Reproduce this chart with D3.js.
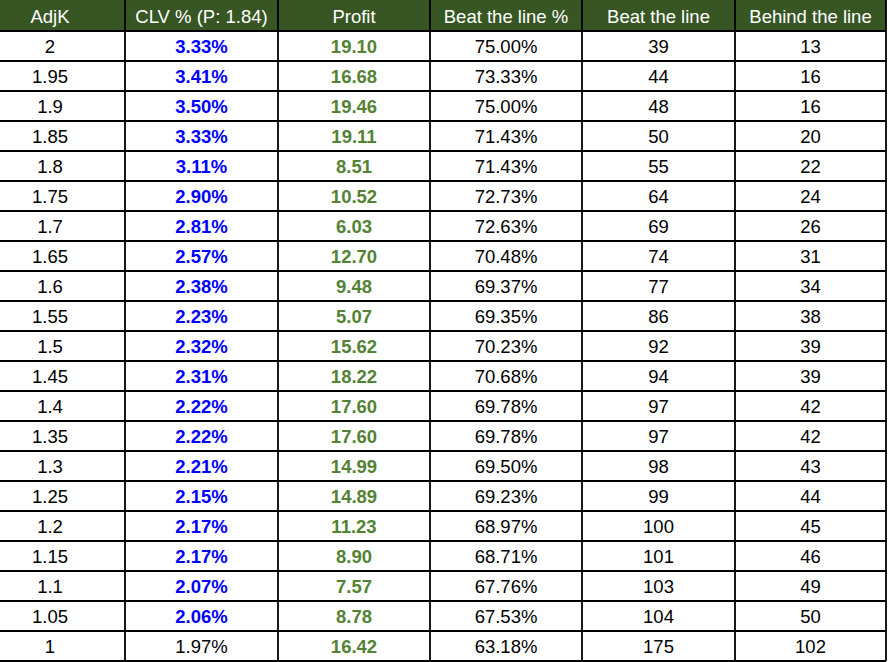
<!DOCTYPE html>
<html><head><meta charset="utf-8">
<script src="https://cdn.jsdelivr.net/npm/d3@7"></script>
<style>body{margin:0;background:#fff}</style>
</head><body><div id="tbl"></div>
<script>
// table data
var headers = ["AdjK", "CLV % (P: 1.84)", "Profit", "Beat the line %", "Beat the line", "Behind the line"];
var adjK = ["2","1.95","1.9","1.85","1.8","1.75","1.7","1.65","1.6","1.55","1.5","1.45","1.4","1.35","1.3","1.25","1.2","1.15","1.1","1.05","1"];
var clv = ["3.33%","3.41%","3.50%","3.33%","3.11%","2.90%","2.81%","2.57%","2.38%","2.23%","2.32%","2.31%","2.22%","2.22%","2.21%","2.15%","2.17%","2.17%","2.07%","2.06%","1.97%"];
var profit = ["19.10","16.68","19.46","19.11","8.51","10.52","6.03","12.70","9.48","5.07","15.62","18.22","17.60","17.60","14.99","14.89","11.23","8.90","7.57","8.78","16.42"];
var beatPct = ["75.00%","73.33%","75.00%","71.43%","71.43%","72.73%","72.63%","70.48%","69.37%","69.35%","70.23%","70.68%","69.78%","69.78%","69.50%","69.23%","68.97%","68.71%","67.76%","67.53%","63.18%"];
var beat = [39,44,48,50,55,64,69,74,77,86,92,94,97,97,98,99,100,101,103,104,175];
var behind = [13,16,16,20,22,24,26,31,34,38,39,39,42,42,43,44,45,46,49,50,102];

var width = 888, height = 662;
var colEdges = [-25, 125, 278, 430, 582, 735, 886];
var headH = 31;
var fs = "18.5px";

var svg = d3.select("#tbl").append("svg").attr("width", width).attr("height", height)
	.style("font-family", "'Liberation Sans', Arial, sans-serif");

var yScale = d3.scaleBand().domain(d3.range(adjK.length)).range([headH, headH + 30 * adjK.length]);

// header
svg.append("rect").attr("x", 0).attr("y", 0).attr("width", colEdges[6]).attr("height", headH).attr("fill", "#375623");
headers.forEach(function(h, i) {
	svg.append("text")
		.attr("x", (colEdges[i] + colEdges[i+1]) / 2).attr("y", headH / 2 + 7)
		.attr("text-anchor", "middle").attr("fill", "#fff").style("font-size", fs)
		.text(h);
});

var cols = [
	{vals: adjK, fill: "#000", bold: false},
	{vals: clv, fill: "#0000ff", bold: true},
	{vals: profit, fill: "#548235", bold: true},
	{vals: beatPct, fill: "#000", bold: false},
	{vals: beat, fill: "#000", bold: false},
	{vals: behind, fill: "#000", bold: false}
];

cols.forEach(function(c, ci) {
	svg.selectAll(null).data(c.vals).enter().append("text")
		.attr("x", (colEdges[ci] + colEdges[ci+1]) / 2)
		.attr("y", function(d, i) { return yScale(i) + yScale.bandwidth() / 2 + 7; })
		.attr("text-anchor", "middle")
		.attr("fill", function(d, i) { return (ci == 1 && i == adjK.length - 1) ? "#000" : c.fill; })
		.style("font-weight", function(d, i) { return (c.bold && !(ci == 1 && i == adjK.length - 1)) ? "bold" : "normal"; })
		.style("font-size", fs)
		.text(function(d) { return d; });
});

// grid lines
var bottom = headH + 30 * adjK.length;
svg.selectAll(".hl").data(d3.range(adjK.length + 1)).enter().append("line")
	.attr("x1", 0).attr("x2", colEdges[6])
	.attr("y1", function(d) { return headH + 30 * d; })
	.attr("y2", function(d) { return headH + 30 * d; })
	.attr("stroke", "#000").attr("stroke-width", 1.8);
svg.selectAll(".vl").data(colEdges.slice(1)).enter().append("line")
	.attr("x1", function(d) { return d; }).attr("x2", function(d) { return d; })
	.attr("y1", 0).attr("y2", bottom)
	.attr("stroke", "#000").attr("stroke-width", 1.8);
</script>
</body></html>
